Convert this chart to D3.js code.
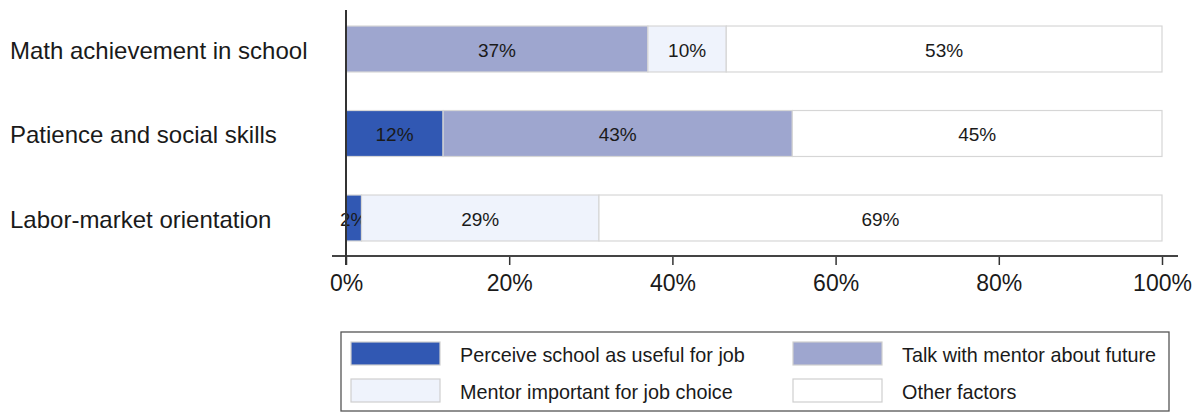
<!DOCTYPE html>
<html>
<head>
<meta charset="utf-8">
<script src="https://cdn.jsdelivr.net/npm/d3@7"></script>
<style>
    body { margin: 0; background: #fff; }
    text { font-family: "Liberation Sans", Arial, sans-serif; fill: #1a1a1a; }
</style>
</head>
<body>
<div id="chart"></div>
<script>
// categories and series, percent of total
var categories = ["Math achievement in school", "Patience and social skills", "Labor-market orientation"];
var seriesNames = ["Perceive school as useful for job", "Talk with mentor about future", "Mentor important for job choice", "Other factors"];
var useful = [0, 11.9, 1.9];
var talk = [37.0, 42.8, 0];
var important = [9.6, 0, 29.1];
var other = [53.4, 45.3, 69.0];
var tickValues = [0, 20, 40, 60, 80, 100];

var colors = ["#3158b3", "#9ea6cf", "#eff3fc", "#ffffff"];

var width = 1204, height = 412;
var svg = d3.select("#chart").append("svg").attr("width", width).attr("height", height);

var x = d3.scaleLinear().domain([0, 100]).range([346, 1162]);
var y = d3.scaleBand().domain(categories).range([6.75, 260.25]).paddingInner(0.456).paddingOuter(0.228);

// build rows for the stack
var rows = categories.map(function (c, i) {
    return { cat: c, s0: useful[i], s1: talk[i], s2: important[i], s3: other[i] };
});
var stack = d3.stack().keys(["s0", "s1", "s2", "s3"]);
var layers = stack(rows);

var g = svg.append("g");
layers.forEach(function (layer, li) {
    var segs = g.append("g").selectAll("g")
        .data(layer.filter(function (d) { return d[1] - d[0] > 0; }))
        .enter().append("g");
    segs.append("rect")
        .attr("x", function (d) { return x(d[0]); })
        .attr("y", function (d) { return y(d.data.cat); })
        .attr("width", function (d) { return x(d[1]) - x(d[0]); })
        .attr("height", y.bandwidth())
        .attr("fill", colors[li])
        .attr("stroke", "#d6d6d6")
        .attr("stroke-width", 1.2);
    segs.append("text")
        .attr("x", function (d) { return (x(d[0]) + x(d[1])) / 2; })
        .attr("y", function (d) { return y(d.data.cat) + y.bandwidth() / 2 + 1; })
        .attr("text-anchor", "middle")
        .attr("dominant-baseline", "central")
        .style("font-size", "19px")
        .text(function (d) { return Math.round(d[1] - d[0]) + "%"; });
});

// category labels
svg.append("g").selectAll("text")
    .data(categories)
    .enter().append("text")
    .attr("x", 10)
    .attr("y", function (d) { return y(d) + y.bandwidth() / 2 + 1; })
    .attr("dominant-baseline", "central")
    .style("font-size", "24px")
    .text(function (d) { return d; });

// x axis
var xAxis = svg.append("g").attr("transform", "translate(0,256)")
    .call(d3.axisBottom(x).tickValues(tickValues).tickSize(9).tickSizeOuter(0)
        .tickFormat(function (d) { return d + "%"; }));
xAxis.select(".domain").remove();
xAxis.append("line").attr("x1", 332).attr("x2", 1178).attr("stroke", "#444").attr("stroke-width", 2);
xAxis.selectAll(".tick line").attr("stroke", "#333").attr("stroke-width", 1.5);
xAxis.selectAll(".tick text").attr("y", 19).attr("dy", "0.71em")
    .style("font-size", "23px").attr("fill", "#1a1a1a");

// y axis line
svg.append("line").attr("x1", x(0)).attr("x2", x(0)).attr("y1", 10).attr("y2", 265)
    .attr("stroke", "#333").attr("stroke-width", 2);

// legend
var legend = svg.append("g");
legend.append("rect").attr("x", 341).attr("y", 332).attr("width", 828).attr("height", 79)
    .attr("fill", "none").attr("stroke", "#555").attr("stroke-width", 1.3);
var legX = [351, 793], legY = [342, 379];
var legOrder = [0, 1, 2, 3];
legOrder.forEach(function (k, i) {
    var lx = legX[i % 2], ly = legY[Math.floor(i / 2)];
    legend.append("rect").attr("x", lx).attr("y", ly).attr("width", 89).attr("height", 23)
        .attr("fill", colors[k]).attr("stroke", "#cfcfcf").attr("stroke-width", 1.2);
    legend.append("text").attr("x", lx + 109).attr("y", ly + 12.5)
        .attr("dominant-baseline", "central").style("font-size", "19.8px")
        .text(seriesNames[k]);
});
</script>
</body>
</html>
